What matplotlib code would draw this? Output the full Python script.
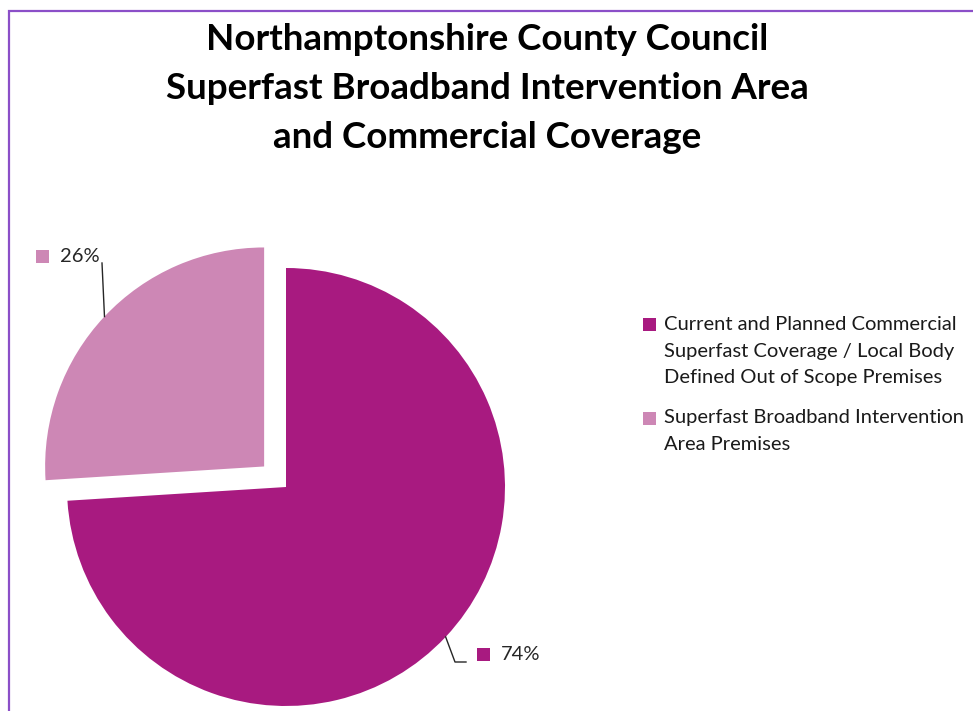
import numpy as np
import matplotlib
matplotlib.use("Agg")
import matplotlib.pyplot as plt
from matplotlib.patches import Rectangle

plt.rcParams["font.family"] = ["Lato", "DejaVu Sans"]

# dane
kategorie = [
    "Current and Planned Commercial\nSuperfast Coverage / Local Body\nDefined Out of Scope Premises",
    "Superfast Broadband Intervention\nArea Premises",
]
udzialy = [74, 26]
kolory = ["#A81A80", "#CD87B5"]
tytul = [
    "Northamptonshire County Council",
    "Superfast Broadband Intervention Area",
    "and Commercial Coverage",
]

fig = plt.figure(figsize=(9.73, 7.11), dpi=100)
ax = fig.add_axes([0, 0, 1, 1])

# wspolrzedne w pikselach (y do gory), explode w jednostkach danych
wedges, _ = ax.pie(
    udzialy,
    colors=kolory,
    startangle=90,
    counterclock=False,
    explode=[0, 30],
    center=(286, 224),
    radius=219,
    wedgeprops=dict(linewidth=0),
)
ax.set_xlim(0, 973)
ax.set_ylim(0, 711)
ax.set_aspect("auto")
ax.axis("off")

# ramka
ax.add_patch(Rectangle((8.5, -20), 1000, 720.5, fill=False,
                       edgecolor="#8B4FC8", linewidth=1.6))

# tytul
for i, linia in enumerate(tytul):
    ax.text(487, 671 - i * 48.5, linia, ha="center", va="center",
            fontsize=26.5, fontweight="bold", color="black")

# etykiety procentowe z liniami
koniec_linii = [(466, 49, "h"), (102, 448, "v")]
for w, val, kol, (ex, ey, typ) in zip(wedges, udzialy, kolory, koniec_linii):
    kat = np.deg2rad((w.theta1 + w.theta2) / 2)
    cx, cy = w.center
    px, py = cx + w.r * np.cos(kat), cy + w.r * np.sin(kat)
    if typ == "h":
        ax.plot([px, ex - 11, ex], [py, ey, ey], color="#262626", lw=1.0)
        mx, ty = ex + 11, ey + 8
    else:
        ax.plot([px, ex], [py, ey], color="#262626", lw=1.0)
        mx, ty = ex - 66, ey + 7
    ax.add_patch(Rectangle((mx, ty - 6.5), 13, 13, color=kol, lw=0))
    ax.text(mx + 24, ty, f"{val}%", ha="left", va="center",
            fontsize=14.5, color="#262626")

# legenda
pozycje_legendy = [387, 293]
for etykieta, kol, y0 in zip(kategorie, kolory, pozycje_legendy):
    ax.add_patch(Rectangle((643, y0 - 6.5), 13, 13, color=kol, lw=0))
    for j, linia in enumerate(etykieta.split("\n")):
        ax.text(664, y0 - j * 27, linia, ha="left", va="center",
                fontsize=14.5, color="#1A1A1A")

fig.savefig("out.png", dpi=100)
